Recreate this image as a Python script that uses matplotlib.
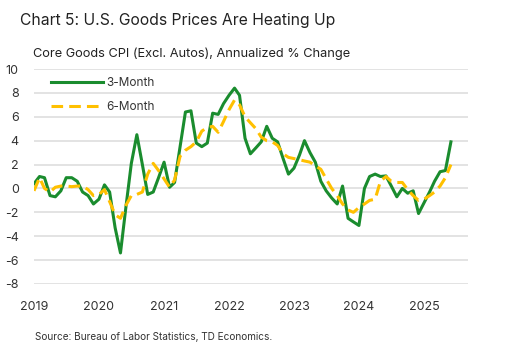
import numpy as np
import pandas as pd
import matplotlib
matplotlib.use("Agg")
import matplotlib.pyplot as plt

plt.rcParams['font.family'] = ['Inter', 'DejaVu Sans']

GREEN = "#1a8c2e"
GOLD = "#FFC000"
TXT = "#333333"

dates = pd.date_range("2019-01-01", periods=78, freq="MS")

# 3-month annualized % change
three_month = [0.4, 1.0, 0.9, -0.6, -0.7, -0.2, 0.9, 0.9, 0.6, -0.3,
               -0.6, -1.3, -0.9, 0.3, -0.3, -3.3, -5.4, -1.5, 2.1, 4.5,
               2.0, -0.5, -0.3, 0.9, 2.2, 0.1, 0.5, 3.5, 6.4, 6.5,
               3.8, 3.5, 3.8, 6.3, 6.2, 7.1, 7.8, 8.4, 7.8, 4.2,
               2.9, 3.4, 3.9, 5.2, 4.2, 3.9, 2.5, 1.2, 1.7, 2.8,
               4.0, 3.0, 2.2, 0.6, -0.2, -0.8, -1.3, 0.2, -2.5, -2.8,
               -3.1, 0.0, 1.0, 1.2, 1.0, 1.05, 0.2, -0.7, 0.0, -0.4,
               -0.2, -2.1, -1.2, -0.3, 0.6, 1.4, 1.5, 3.9]

# 6-month annualized % change
six_month = [-0.2, 0.9, 0.0, -0.3, 0.1, 0.2, 0.2, 0.15, 0.2, 0.2,
             -0.1, -0.6, -0.5, -0.1, -1.1, -2.2, -2.5, -1.4, -0.6, -0.5,
             -0.3, 1.2, 2.1, 1.5, 0.8, 0.1, 0.7, 2.7, 3.2, 3.5,
             3.9, 4.8, 5.1, 5.2, 4.7, 5.6, 6.6, 7.4, 7.0, 6.0,
             5.5, 5.0, 4.3, 4.0, 3.9, 3.6, 2.9, 2.6, 2.5, 2.4,
             2.3, 2.2, 1.9, 1.6, 0.8, 0.0, -0.6, -1.3, -1.8, -2.0,
             -1.6, -1.3, -1.0, -0.9, 0.6, 1.0, 0.6, 0.5, 0.5, -0.1,
             -0.6, -1.0, -0.9, -0.6, -0.3, 0.2, 0.9, 2.0]

yticks = [-8, -6, -4, -2, 0, 2, 4, 6, 8, 10]
years = [2019, 2020, 2021, 2022, 2023, 2024, 2025]

fig = plt.figure(figsize=(5.12, 3.55), dpi=100)
ax = fig.add_axes([34/512, 1-284/355, (468-34)/512, (284-69)/355])

ax.plot(dates, three_month, color=GREEN, lw=2.2, label="3-Month", zorder=3)
ax.plot(dates, six_month, color=GOLD, lw=2.2, dashes=(3.8, 2), label="6-Month", zorder=4)

ax.set_ylim(-8, 10)
ax.set_yticks(yticks)
ax.set_yticklabels([str(v) for v in yticks])
ax.set_xlim(pd.Timestamp("2019-01-01"), pd.Timestamp("2025-09-05"))
ax.set_xticks([pd.Timestamp(f"{y}-01-01") for y in years])
ax.set_xticklabels([str(y) for y in years])

ax.grid(axis="y", color="#e3e3e3", lw=1.4)
ax.set_axisbelow(True)
for s in ax.spines.values():
    s.set_visible(False)
ax.tick_params(length=0, labelsize=9, colors=TXT)
ax.tick_params(axis="y", pad=11)
ax.tick_params(axis="x", pad=12)

leg = ax.legend(loc="upper left", bbox_to_anchor=(0.015, 1.01), frameon=False,
                fontsize=8.5, handlelength=4.4, labelspacing=1.0, handletextpad=0.3)
for t in leg.get_texts():
    t.set_color(TXT)

fig.text(20/512, 1-20/355, "Chart 5: U.S. Goods Prices Are Heating Up",
         fontsize=11.3, color="#222222", va="center", ha="left")
fig.text(33/512, 1-54/355, "Core Goods CPI (Excl. Autos), Annualized % Change",
         fontsize=9.2, color="#222222", va="center", ha="left")
fig.text(35/512, 1-337/355, "Source: Bureau of Labor Statistics, TD Economics.",
         fontsize=7.2, color=TXT, va="center", ha="left")

fig.savefig("out.png", dpi=100)
